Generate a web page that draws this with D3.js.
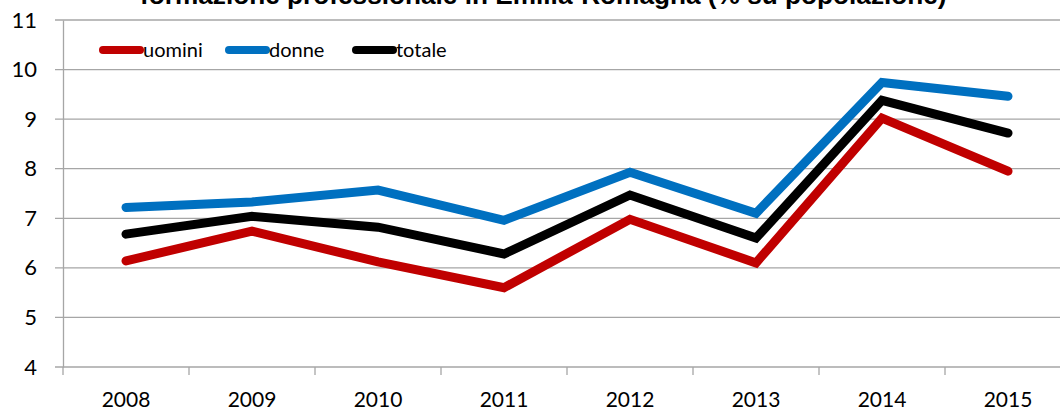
<!DOCTYPE html>
<html>
<head>
<meta charset="utf-8">
<script src="https://d3js.org/d3.v7.min.js"></script>
<style>
  body { margin: 0; background: #fff; }
  svg { display: block; }
</style>
</head>
<body>
<svg></svg>
<script>
  const width = 1060;
  const height = 411;

  const years = ['2008', '2009', '2010', '2011', '2012', '2013', '2014', '2015'];
  const uomini = [6.14, 6.74, 6.12, 5.6, 6.98, 6.1, 9.02, 7.95];
  const donne = [7.22, 7.33, 7.57, 6.96, 7.93, 7.1, 9.74, 9.46];
  const totale = [6.68, 7.04, 6.82, 6.28, 7.47, 6.6, 9.38, 8.72];
  const yTicks = [4, 5, 6, 7, 8, 9, 10, 11];
  const title = 'formazione professionale in Emilia-Romagna (% su popolazione)';

  const series = [
    { name: 'uomini', values: uomini, color: '#c00000' },
    { name: 'donne', values: donne, color: '#0070c0' },
    { name: 'totale', values: totale, color: '#000000' }
  ];

  const svg = d3.select('svg').attr('width', width).attr('height', height);

  const x = d3.scaleBand().domain(years).range([63, 1071]);
  const y = d3.scaleLinear().domain([4, 11]).range([367, 20]);

  // gridlines
  svg.append('g')
    .selectAll('line')
    .data(yTicks)
    .enter().append('line')
    .attr('x1', 55).attr('x2', width)
    .attr('y1', d => y(d)).attr('y2', d => y(d))
    .style('stroke', '#a6a6a6')
    .style('stroke-width', 1.3);

  // y axis
  const yAxis = svg.append('g')
    .attr('transform', 'translate(63,0)')
    .call(d3.axisLeft(y).tickValues(yTicks).tickFormat(d3.format('d')).tickSize(0).tickPadding(26));
  yAxis.select('.domain').style('stroke', '#a6a6a6').style('stroke-width', 1.3);
  yAxis.selectAll('text')
    .style('font-family', 'Lato, sans-serif')
    .style('font-size', '22px')
    .style('fill', '#000');

  // x axis
  const xAxis = svg.append('g')
    .attr('transform', 'translate(0,367)')
    .call(d3.axisBottom(x).tickSize(0).tickPadding(25));
  xAxis.select('.domain').remove();
  xAxis.selectAll('text')
    .style('font-family', 'Lato, sans-serif')
    .style('font-size', '21px')
    .style('fill', '#000');
  xAxis.selectAll('line.tk')
    .data(years.concat(['end']))
    .enter().append('line')
    .attr('class', 'tk')
    .attr('x1', (d, i) => x.range()[0] + i * x.step())
    .attr('x2', (d, i) => x.range()[0] + i * x.step())
    .attr('y1', 0).attr('y2', 8)
    .style('stroke', '#a6a6a6')
    .style('stroke-width', 1.3);

  // lines
  const line = d3.line()
    .x((d, i) => x(years[i]) + x.bandwidth() / 2)
    .y(d => y(d));

  svg.append('g')
    .selectAll('path')
    .data(series)
    .enter().append('path')
    .attr('d', d => line(d.values))
    .style('fill', 'none')
    .style('stroke', d => d.color)
    .style('stroke-width', 9)
    .style('stroke-linecap', 'round')
    .style('stroke-linejoin', 'miter');

  // legend
  const legendX = [103, 229, 356];
  const legend = svg.append('g')
    .selectAll('g')
    .data(series)
    .enter().append('g')
    .attr('transform', (d, i) => 'translate(' + legendX[i] + ',50)');
  legend.append('line')
    .attr('x1', 0).attr('x2', 37)
    .style('stroke', d => d.color)
    .style('stroke-width', 8)
    .style('stroke-linecap', 'round');
  legend.append('text')
    .attr('x', 40).attr('y', 7)
    .text(d => d.name)
    .style('font-family', 'Lato, sans-serif')
    .style('font-size', '20px')
    .style('fill', '#000');

  // title, clipped at top like the original
  const t = svg.append('text')
    .attr('x', 140).attr('y', 4)
    .text(title)
    .style('font-family', 'Liberation Sans, Arial, sans-serif')
    .style('font-weight', 'bold')
    .style('font-size', '22px')
    .style('fill', '#000');
  const len = t.node().getComputedTextLength();
  t.style('font-size', (22 * 807 / len) + 'px');
</script>
</body>
</html>
